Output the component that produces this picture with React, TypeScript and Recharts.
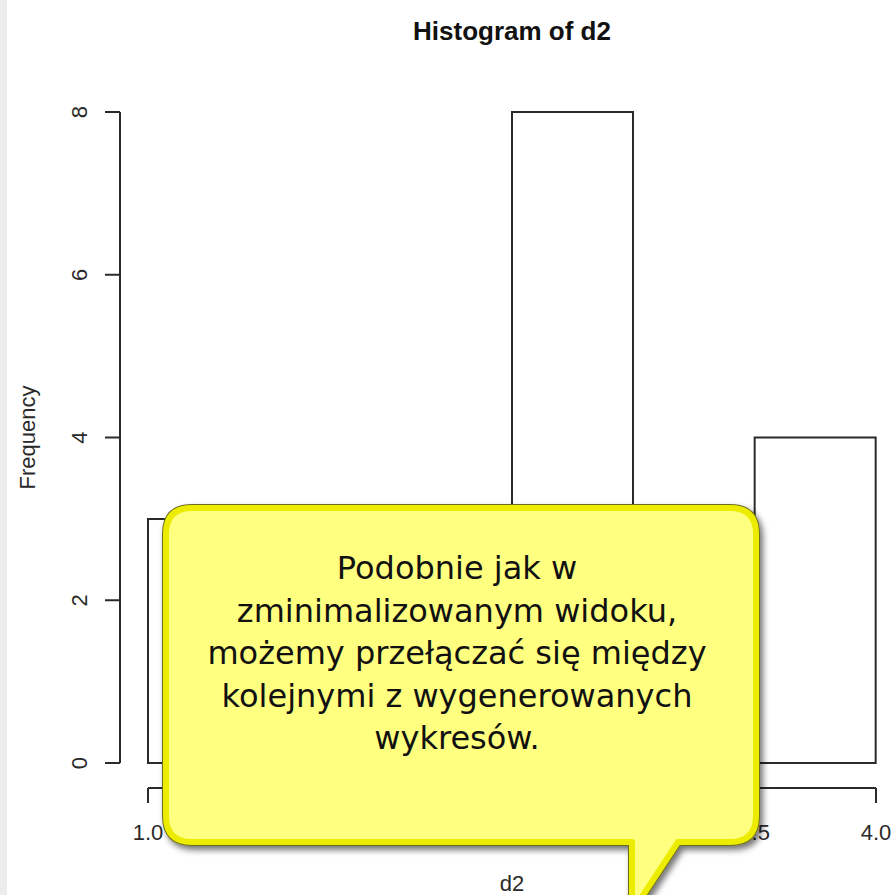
import React from 'react';
import { ComposedChart, Bar, Line, XAxis, YAxis, Customized } from 'recharts';

// ---- data ----
const binStarts = [1.0, 1.5, 2.0, 2.5, 3.0, 3.5];
const binLabels = ['1.0-1.5', '1.5-2.0', '2.0-2.5', '2.5-3.0', '3.0-3.5', '3.5-4.0'];
const frequencies = [3, 1, 3, 8, 2, 4];
const xTicks = [1.0, 1.5, 2.0, 2.5, 3.0, 3.5, 4.0];
const yTicks = [0, 2, 4, 6, 8];
const chartTitle = 'Histogram of d2';
const xLabel = 'd2';
const yLabel = 'Frequency';
const calloutLines = [
  'Podobnie jak w',
  'zminimalizowanym widoku,',
  'możemy przełączać się między',
  'kolejnymi z wygenerowanych',
  'wykresów.',
];

const data = binLabels.map((bin, i) => ({ bin, start: binStarts[i], count: frequencies[i] }));

const FONT = '"Liberation Sans", Arial, Helvetica, sans-serif';
const INK = '#2a2a2a';

const YTick = (props: any) => {
  const { x, y, payload } = props;
  return (
    <text
      x={x}
      y={y}
      transform={`rotate(-90 ${x} ${y})`}
      textAnchor="middle"
      fontFamily={FONT}
      fontSize={22}
      fill={INK}
    >
      {payload.value}
    </text>
  );
};

const XTick = (props: any) => {
  const { x, y, payload } = props;
  return (
    <text x={x} y={y + 31} textAnchor="middle" fontFamily={FONT} fontSize={22} fill={INK}>
      {Number(payload.value).toFixed(1)}
    </text>
  );
};

const YLabel = (props: any) => {
  const vb = props.viewBox || {};
  const x = (vb.x || 0) + 35;
  const y = (vb.y || 0) + (vb.height || 0) / 2;
  return (
    <text x={x} y={y} transform={`rotate(-90 ${x} ${y})`} textAnchor="middle" fontFamily={FONT} fontSize={22} fill={INK}>
      {yLabel}
    </text>
  );
};

const XLabel = (props: any) => {
  const vb = props.viewBox || {};
  const x = (vb.x || 0) + (vb.width || 0) / 2;
  const y = (vb.y || 0) + 103;
  return (
    <text x={x} y={y} textAnchor="middle" fontFamily={FONT} fontSize={22} fill={INK}>
      {xLabel}
    </text>
  );
};

const Title = () => (
  <text x={512} y={40} textAnchor="middle" fontFamily={FONT} fontWeight="bold" fontSize={26} fill="#111">
    {chartTitle}
  </text>
);

const Callout = () => {
  const x0 = 166, y0 = 508, x1 = 756, y1 = 842, r = 26;
  const tl = 632, tr = 678, tipY = 912;
  const d = `M ${x0 + r} ${y0} H ${x1 - r} Q ${x1} ${y0} ${x1} ${y0 + r} V ${y1 - r} Q ${x1} ${y1} ${x1 - r} ${y1} H ${tr} L ${tl} ${tipY} V ${y1} H ${x0 + r} Q ${x0} ${y1} ${x0} ${y1 - r} V ${y0 + r} Q ${x0} ${y0} ${x0 + r} ${y0} Z`;
  return (
    <svg width={892} height={895} style={{ position: 'absolute', left: 0, top: 0, pointerEvents: 'none' }}>
      <defs>
        <filter id="shadow" x="-10%" y="-10%" width="130%" height="130%">
          <feDropShadow dx={3} dy={4} stdDeviation={3} floodColor="#000" floodOpacity={0.55} />
        </filter>
      </defs>
      <path d={d} fill="#ffff80" stroke="#6d6d20" strokeWidth={8} filter="url(#shadow)" strokeLinejoin="round" />
      <path d={d} fill="#ffff80" stroke="#ecec00" strokeWidth={6} strokeLinejoin="round" />
      {calloutLines.map((line, i) => (
        <text
          key={i}
          x={457}
          y={579 + i * 42.5}
          textAnchor="middle"
          fontFamily='"DejaVu Sans", Verdana, sans-serif'
          fontSize={32}
          fill="#111"
        >
          {line}
        </text>
      ))}
    </svg>
  );
};

export default function App() {
  return (
    <div style={{ position: 'absolute', left: 0, top: 0, width: 892, height: 895, background: '#fff', overflow: 'hidden' }}>
      <div style={{ position: 'absolute', left: 0, top: 0, width: 7, height: 895, background: '#ececec' }} />
      <ComposedChart
        width={892}
        height={895}
        data={data}
        margin={{ top: 112, right: 16, bottom: 0, left: 0 }}
        barCategoryGap={0}
        barGap={0}
        style={{ position: 'absolute', left: 0, top: 0 }}
      >
        <XAxis xAxisId="a" dataKey="bin" type="category" height={25} axisLine={false} tickLine={false} tick={false} />
        <XAxis
          xAxisId="b"
          dataKey="start"
          type="number"
          domain={[1, 4]}
          ticks={xTicks}
          interval={0}
          allowDataOverflow
          height={107}
          tickSize={15}
          tickMargin={6}
          axisLine={{ stroke: INK, strokeWidth: 2 }}
          tickLine={{ stroke: INK, strokeWidth: 2 }}
          tick={<XTick />}
          label={<XLabel />}
        />
        <YAxis yAxisId="ya" type="number" domain={[0, 8]} width={28} axisLine={false} tickLine={false} tick={false} />
        <YAxis
          yAxisId="yb"
          type="number"
          domain={[0, 8]}
          ticks={yTicks}
          width={120}
          tickSize={15}
          tickMargin={18}
          axisLine={{ stroke: INK, strokeWidth: 2 }}
          tickLine={{ stroke: INK, strokeWidth: 2 }}
          tick={<YTick />}
          label={<YLabel />}
        />
        <Bar
          xAxisId="a"
          yAxisId="yb"
          dataKey="count"
          fill="#ffffff"
          stroke={INK}
          strokeWidth={2}
          isAnimationActive={false}
        />
        <Line
          xAxisId="b"
          yAxisId="yb"
          dataKey="count"
          stroke="none"
          strokeOpacity={0}
          dot={false}
          activeDot={false}
          legendType="none"
          isAnimationActive={false}
        />
        <Customized component={Title} />
      </ComposedChart>
      <Callout />
    </div>
  );
}
